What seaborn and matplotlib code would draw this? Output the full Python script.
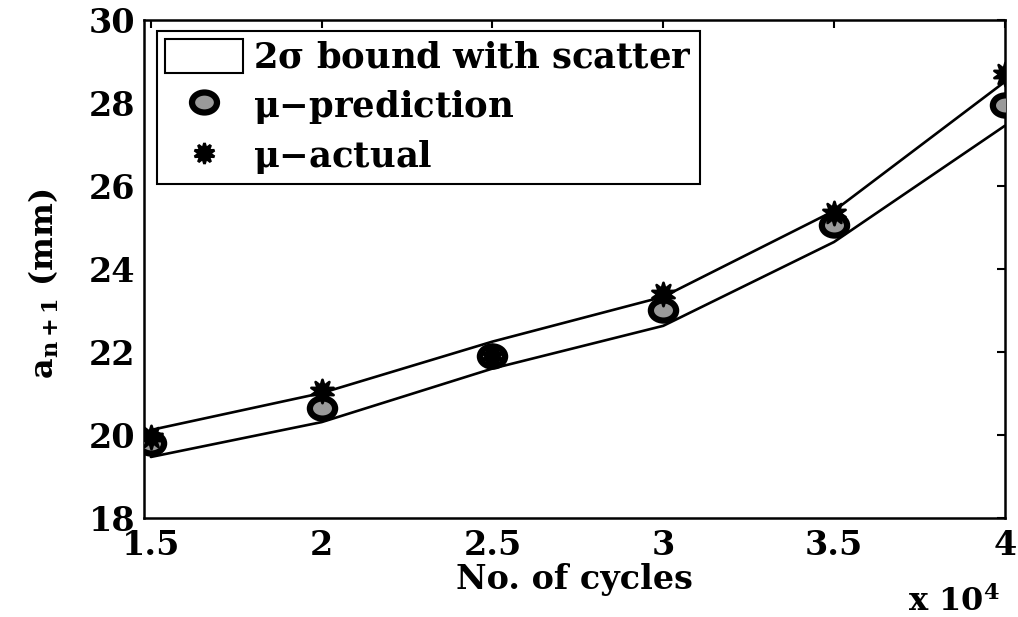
import matplotlib
matplotlib.use("Agg")
import matplotlib.pyplot as plt
import seaborn as sns
import pandas as pd
from matplotlib.patches import Patch
from matplotlib.lines import Line2D
from matplotlib.path import Path
from matplotlib.transforms import Affine2D

# Cycle counts (x 10^4)
cycles = [1.5, 2.0, 2.5, 3.0, 3.5, 4.0]
upper_bound = [20.12, 21.01, 22.25, 23.33, 25.40, 28.51]
lower_bound = [19.47, 20.31, 21.60, 22.63, 24.65, 27.45]
mu_prediction = [19.80, 20.65, 21.90, 23.00, 25.05, 27.95]
mu_actual = [19.95, 21.05, 21.90, 23.40, 25.35, 28.70]
x_tick_labels = ["1.5", "2", "2.5", "3", "3.5", "4"]
y_ticks = [18, 20, 22, 24, 26, 28, 30]

sns.set_theme(style="white")
plt.rcParams["font.family"] = ["DejaVu Serif"]
plt.rcParams["font.weight"] = "bold"
plt.rcParams["text.color"] = "black"
plt.rcParams["axes.labelcolor"] = "black"
plt.rcParams["xtick.color"] = "black"
plt.rcParams["ytick.color"] = "black"
plt.rcParams["mathtext.fontset"] = "custom"
plt.rcParams["mathtext.rm"] = "DejaVu Serif:bold"
plt.rcParams["mathtext.it"] = "DejaVu Serif:bold"
plt.rcParams["mathtext.bf"] = "DejaVu Serif:bold"

df = pd.DataFrame({"cycles": cycles, "upper": upper_bound, "lower": lower_bound,
                   "pred": mu_prediction, "actual": mu_actual})

# slightly flattened circle for the prediction markers
ellipse = Path.unit_circle().transformed(Affine2D().scale(1.0, 0.8))
star = (10, 1, 0)

fig = plt.figure(figsize=(10.18, 6.17), dpi=100)
ax = fig.add_axes([0.1415, 0.1605, 0.8455, 0.8071])

sns.lineplot(data=df, x="cycles", y="upper", ax=ax, color="black", lw=1.9)
sns.lineplot(data=df, x="cycles", y="lower", ax=ax, color="black", lw=1.9)
sns.scatterplot(data=df, x="cycles", y="pred", ax=ax, marker=ellipse, s=330,
                facecolor="#9a9a9a", edgecolor="black", linewidth=4.5, zorder=4)
sns.scatterplot(data=df, x="cycles", y="actual", ax=ax, marker=star, s=280,
                color="black", edgecolor="black", linewidth=2.0, zorder=5)

ax.set_xlim(1.48, 4.0)
ax.set_ylim(18, 30)
ax.set_xticks(cycles)
ax.set_xticklabels(x_tick_labels)
ax.set_yticks(y_ticks)
ax.tick_params(axis="both", direction="in", length=6, width=1.5, labelsize=24,
               top=True, right=True, colors="black")
ax.tick_params(axis="x", pad=8)
ax.tick_params(axis="y", pad=6)
for lab in ax.get_xticklabels() + ax.get_yticklabels():
    lab.set_fontweight("bold")
for sp in ax.spines.values():
    sp.set_color("black")
    sp.set_linewidth(1.8)

ax.set_xlabel("No. of cycles", fontsize=24, fontweight="bold", labelpad=1)
ax.set_ylabel(r"a$_{\mathregular{n+1}}$ (mm)", fontsize=23, fontweight="bold")
ax.yaxis.set_label_coords(-0.097, 0.47)
fig.text(0.982, -0.002, r"x 10$^{\mathregular{4}}$", ha="right", va="bottom",
         fontsize=23, fontweight="bold")

handles = [
    Patch(facecolor="white", edgecolor="black", linewidth=1.5),
    Line2D([], [], marker=ellipse, linestyle="none", markersize=18,
           markerfacecolor="#9a9a9a", markeredgecolor="black", markeredgewidth=4.5),
    Line2D([], [], marker=star, linestyle="none", markersize=15,
           markerfacecolor="black", markeredgecolor="black", markeredgewidth=2.0),
]
labels = [r"2$\sigma$ bound with scatter", r"$\mu$$-$prediction", r"$\mu$$-$actual"]
leg = ax.legend(handles, labels, loc="upper left", bbox_to_anchor=(0.0151, 0.978),
                frameon=True, fancybox=False, borderaxespad=0,
                handlelength=2.2, handleheight=1.1, handletextpad=0.3,
                labelspacing=0.36, borderpad=0.22,
                prop={"family": "DejaVu Serif", "weight": "bold", "size": 25.5})
leg.get_frame().set_edgecolor("black")
leg.get_frame().set_linewidth(1.5)
leg.get_frame().set_alpha(1)

fig.savefig("out.png", dpi=100, facecolor="white")
